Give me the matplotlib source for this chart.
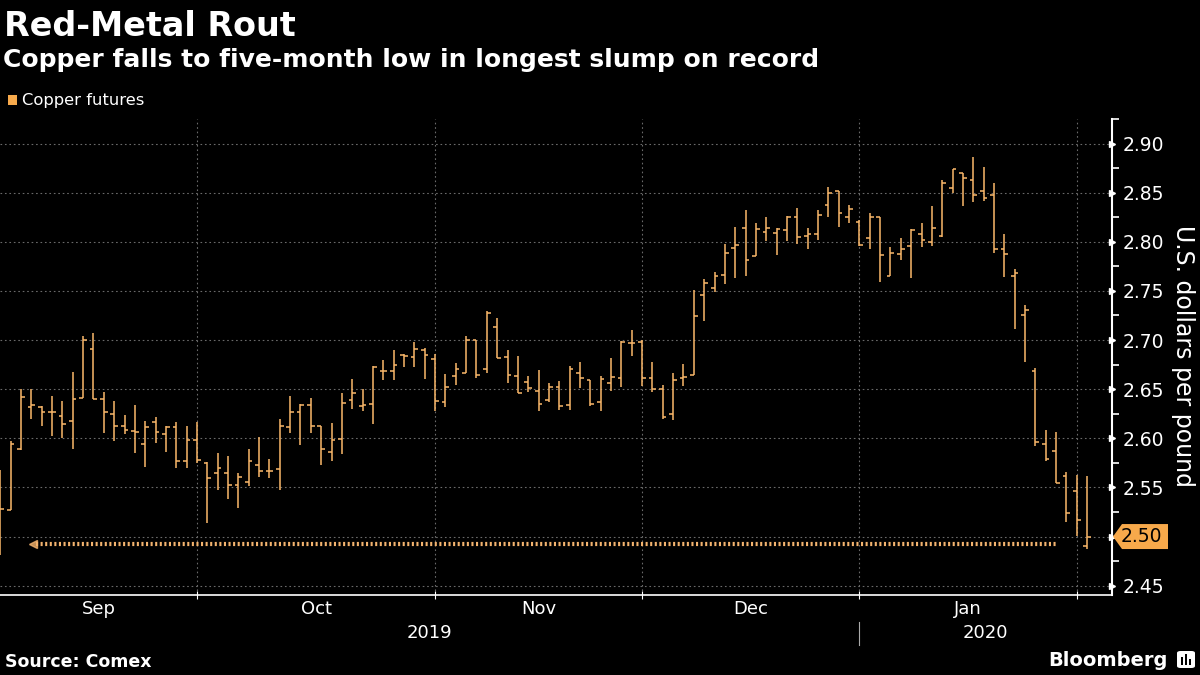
import numpy as np
import matplotlib
matplotlib.use("Agg")
import matplotlib.pyplot as plt
import matplotlib.transforms as mtransforms
from matplotlib.patches import Polygon, Rectangle, FancyBboxPatch

# daily copper futures bars (open/high/low/close), first bar = early Sep 2019
opens = [2.500, 2.527, 2.589, 2.632, 2.632, 2.627, 2.623, 2.618, 2.641, 2.691,
         2.640, 2.625, 2.613, 2.607, 2.594, 2.617, 2.604, 2.612, 2.577, 2.598,
         2.575, 2.565, 2.565, 2.552, 2.556, 2.573, 2.567, 2.569, 2.611, 2.627,
         2.634, 2.613, 2.586, 2.599, 2.639, 2.633, 2.635, 2.669, 2.668, 2.685,
         2.683, 2.690, 2.681, 2.637, 2.663, 2.666, 2.700, 2.671, 2.713, 2.683,
         2.663, 2.657, 2.648, 2.639, 2.652, 2.634, 2.666, 2.659, 2.637, 2.656,
         2.661, 2.697, 2.698, 2.661, 2.650, 2.625, 2.661, 2.664, 2.746, 2.753,
         2.766, 2.794, 2.814, 2.786, 2.810, 2.809, 2.812, 2.825, 2.806, 2.808,
         2.837, 2.852, 2.825, 2.820, 2.804, 2.825, 2.765, 2.788, 2.796, 2.808,
         2.800, 2.806, 2.855, 2.870, 2.863, 2.852, 2.848, 2.793, 2.765, 2.726,
         2.668, 2.594, 2.587, 2.562, 2.546, 2.490]
highs = [2.568, 2.597, 2.650, 2.650, 2.633, 2.643, 2.638, 2.667, 2.704, 2.707,
         2.647, 2.638, 2.624, 2.634, 2.618, 2.622, 2.613, 2.617, 2.613, 2.617,
         2.576, 2.585, 2.582, 2.565, 2.589, 2.601, 2.579, 2.620, 2.643, 2.635,
         2.641, 2.613, 2.616, 2.646, 2.660, 2.650, 2.674, 2.680, 2.690, 2.686,
         2.698, 2.692, 2.686, 2.665, 2.677, 2.704, 2.700, 2.730, 2.722, 2.690,
         2.684, 2.663, 2.670, 2.656, 2.658, 2.674, 2.678, 2.659, 2.663, 2.682,
         2.699, 2.710, 2.700, 2.678, 2.654, 2.666, 2.676, 2.751, 2.762, 2.769,
         2.798, 2.815, 2.832, 2.819, 2.825, 2.814, 2.826, 2.834, 2.814, 2.832,
         2.856, 2.852, 2.837, 2.822, 2.829, 2.825, 2.795, 2.804, 2.813, 2.819,
         2.836, 2.863, 2.874, 2.870, 2.886, 2.876, 2.860, 2.808, 2.772, 2.736,
         2.672, 2.608, 2.606, 2.566, 2.563, 2.562]
lows = [2.481, 2.527, 2.588, 2.620, 2.613, 2.602, 2.600, 2.589, 2.641, 2.640,
        2.605, 2.597, 2.604, 2.585, 2.571, 2.595, 2.586, 2.570, 2.570, 2.575,
        2.514, 2.547, 2.538, 2.529, 2.551, 2.561, 2.560, 2.547, 2.605, 2.593,
        2.605, 2.573, 2.577, 2.584, 2.630, 2.628, 2.615, 2.659, 2.659, 2.673,
        2.673, 2.660, 2.628, 2.632, 2.654, 2.666, 2.661, 2.666, 2.682, 2.656,
        2.646, 2.647, 2.628, 2.637, 2.629, 2.629, 2.651, 2.633, 2.628, 2.648,
        2.652, 2.684, 2.653, 2.647, 2.620, 2.619, 2.653, 2.664, 2.719, 2.749,
        2.757, 2.763, 2.765, 2.786, 2.801, 2.787, 2.801, 2.798, 2.793, 2.802,
        2.825, 2.815, 2.819, 2.796, 2.793, 2.759, 2.765, 2.781, 2.763, 2.795,
        2.796, 2.805, 2.850, 2.836, 2.841, 2.842, 2.789, 2.764, 2.711, 2.678,
        2.592, 2.577, 2.554, 2.515, 2.501, 2.487]
closes = [2.528, 2.594, 2.642, 2.634, 2.627, 2.627, 2.615, 2.640, 2.700, 2.640,
          2.627, 2.613, 2.608, 2.606, 2.612, 2.606, 2.612, 2.577, 2.598, 2.578,
          2.560, 2.570, 2.552, 2.561, 2.577, 2.567, 2.567, 2.613, 2.627, 2.634,
          2.613, 2.589, 2.598, 2.636, 2.646, 2.634, 2.673, 2.668, 2.675, 2.684,
          2.691, 2.685, 2.638, 2.652, 2.671, 2.700, 2.664, 2.728, 2.682, 2.664,
          2.646, 2.651, 2.635, 2.652, 2.633, 2.671, 2.661, 2.635, 2.660, 2.662,
          2.698, 2.697, 2.661, 2.650, 2.622, 2.659, 2.662, 2.724, 2.758, 2.765,
          2.789, 2.797, 2.781, 2.813, 2.814, 2.813, 2.825, 2.805, 2.808, 2.827,
          2.850, 2.829, 2.833, 2.797, 2.825, 2.787, 2.789, 2.793, 2.812, 2.802,
          2.814, 2.860, 2.874, 2.865, 2.848, 2.845, 2.793, 2.788, 2.768, 2.731,
          2.596, 2.579, 2.554, 2.524, 2.517, 2.500]

# bar index where each new month starts (Oct, Nov, Dec, Jan, Feb)
month_starts = [19, 42, 62, 83, 104]
month_names = ["Sep", "Oct", "Nov", "Dec", "Jan"]
year_start = 83
year_names = ["2019", "2020"]
y_ticks = [2.45, 2.50, 2.55, 2.60, 2.65, 2.70, 2.75, 2.80, 2.85, 2.90]
last_price = "2.50"

# dotted "lowest since" line
low_level = 2.4925
low_from = 3.4
low_to = 102

bar_col = "#fbb86a"
grid_col = "#6a6a6a"
x_min, x_max = -0.03, 107.4

fig = plt.figure(figsize=(12, 6.75), dpi=100, facecolor="black")
ax = fig.add_axes([0, 1 - 595 / 675, 1112 / 1200, 476 / 675])
ax.set_facecolor("black")

x = np.arange(len(closes))
ax.vlines(x, lows, highs, color=bar_col, lw=1.1, zorder=3)
ax.hlines(opens, x - 0.36, x, color=bar_col, lw=1.1, zorder=3)
ax.hlines(closes, x, x + 0.36, color=bar_col, lw=1.1, zorder=3)

ax.plot([low_from, low_to], [low_level, low_level], color="#f3b36e",
        lw=3, linestyle=(0, (0.5, 0.6)), zorder=2)
ax.plot([low_from - 0.2], [low_level], marker="<", ms=6, color="#f3b36e",
        alpha=0.8, zorder=2)

ax.set_xlim(x_min, x_max)
ax.set_ylim(2.4405, 2.9247)

# grid
ax.set_xticks(month_starts)
ax.set_xticklabels([])
ax.set_yticks(y_ticks)
ax.grid(True, color=grid_col, linestyle=(0, (1.5, 2.5)), lw=0.8, zorder=0)

for s in ["top", "left"]:
    ax.spines[s].set_visible(False)
ax.spines["right"].set_color("white")
ax.spines["right"].set_linewidth(1.5)
ax.spines["bottom"].set_color("white")
ax.spines["bottom"].set_linewidth(1.2)

ax.tick_params(axis="x", colors="white", direction="inout", length=6, width=0.8)
ax.yaxis.tick_right()
ax.set_yticklabels(["" if f"{v:.2f}" == last_price else f"{v:.2f}" for v in y_ticks])
ax.tick_params(axis="y", colors="white", labelsize=13.5, length=0, pad=8)
ax.set_yticks([v + 0.025 for v in y_ticks], minor=True)
ax.tick_params(axis="y", which="minor", colors="white", length=5, width=1.2,
               direction="out", right=True, left=False)

ytrans = ax.get_yaxis_transform()
ax.plot([1.0] * len(y_ticks), y_ticks, linestyle="none", marker=">", ms=4.5,
        color="white", transform=ytrans, clip_on=False, zorder=5)

# month / year labels
edges = [x_min] + month_starts
xtrans = ax.get_xaxis_transform()
for name, a, b in zip(month_names, edges[:-1], edges[1:]):
    ax.text((a + b) / 2, -0.0294, name, transform=xtrans, color="white",
            fontsize=13, ha="center", va="center")
for name, a, b in zip(year_names, [x_min, year_start], [year_start, x_max]):
    ax.text((a + b) / 2, -0.0798, name, transform=xtrans, color="white",
            fontsize=13, ha="center", va="center")
ax.plot([year_start, year_start], [-0.057, -0.105], color="#aaaaaa", lw=0.8,
        transform=xtrans, clip_on=False)

# last price badge
base = mtransforms.blended_transform_factory(ax.transAxes, ax.transData)
badge_tr = mtransforms.Affine2D() + mtransforms.ScaledTranslation(1.0, closes[-1], base)
badge = Polygon([(1, 0), (10, 12.5), (56, 12.5), (56, -12.5), (10, -12.5)],
                closed=True, facecolor="#f7a94b", edgecolor="none",
                transform=badge_tr, clip_on=False, zorder=6)
ax.add_patch(badge)
ax.annotate(last_price, xy=(1.0, closes[-1]), xycoords=base, xytext=(9, 0),
            textcoords="offset pixels", color="black", fontsize=13.5,
            ha="left", va="center", zorder=7, annotation_clip=False)

fig.text(1183 / 1200, 1 - 356 / 675, "U.S. dollars per pound", rotation=270,
         color="white", fontsize=17, ha="center", va="center")

# titles and notes
fig.text(4 / 1200, 1 - 36.5 / 675, "Red-Metal Rout", color="white",
         fontsize=24, fontweight="bold", va="baseline")
fig.text(3 / 1200, 1 - 67 / 675, "Copper falls to five-month low in longest slump on record",
         color="white", fontsize=18, fontweight="bold", va="baseline")
fig.patches.append(Rectangle((8 / 1200, 1 - 105 / 675), 9 / 1200, 10 / 675,
                             facecolor="#f7a94b", transform=fig.transFigure))
fig.text(22 / 1200, 1 - 100 / 675, "Copper futures", color="white",
         fontsize=11.8, va="center")
fig.text(5 / 1200, 1 - 662 / 675, "Source: Comex", color="white",
         fontsize=12.5, fontweight="bold", va="center")
fig.text(1168 / 1200, 1 - 660 / 675, "Bloomberg", color="white",
         fontsize=14, fontweight="bold", va="center", ha="right")
fig.patches.append(FancyBboxPatch((1177 / 1200, 1 - 668 / 675), 18 / 1200, 17 / 675,
                                  boxstyle="round,pad=0,rounding_size=0.003",
                                  facecolor="white", edgecolor="none",
                                  transform=fig.transFigure))
for bx, bh in zip([1181, 1185, 1189], [8, 11, 6]):
    fig.patches.append(Rectangle((bx / 1200, 1 - 665 / 675), 2 / 1200, bh / 675,
                                 facecolor="black", transform=fig.transFigure))

fig.savefig("out.png", dpi=100, facecolor="black")
